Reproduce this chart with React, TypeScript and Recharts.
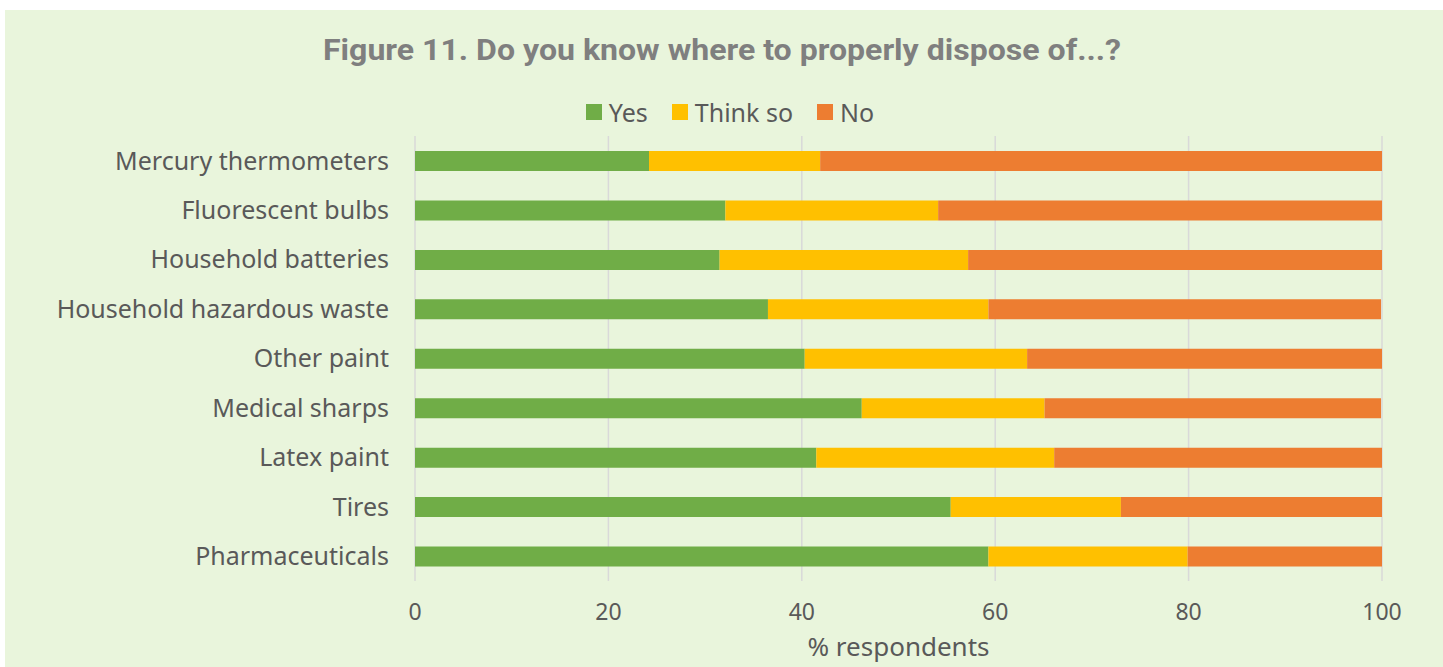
import { BarChart, Bar, XAxis, YAxis, CartesianGrid } from 'recharts';

const categories = [
  'Mercury thermometers',
  'Fluorescent bulbs',
  'Household batteries',
  'Household hazardous waste',
  'Other paint',
  'Medical sharps',
  'Latex paint',
  'Tires',
  'Pharmaceuticals',
];
const yesValues = [24.2, 32.1, 31.5, 36.5, 40.3, 46.2, 41.5, 55.4, 59.3];
const thinkSoValues = [17.7, 22.0, 25.7, 22.8, 23.0, 18.9, 24.6, 17.6, 20.6];
const noValues = [58.1, 45.9, 42.8, 40.6, 36.7, 34.8, 33.9, 27.0, 20.1];

const seriesKeys = ['yes', 'thinkSo', 'no'];
const seriesNames = ['Yes', 'Think so', 'No'];
const seriesColors = ['#70AD47', '#FFC000', '#ED7D31'];
const xTicks = [0, 20, 40, 60, 80, 100];

const data = categories.map((name, i) => ({
  name,
  yes: yesValues[i],
  thinkSo: thinkSoValues[i],
  no: noValues[i],
}));

const W = 1438;
const H = 657;
const FONT = '"Noto Sans", "Open Sans", sans-serif';
const TEXT = '#595959';

export default function App() {
  return (
    <div
      style={{
        position: 'absolute',
        left: 5,
        top: 10,
        width: W,
        height: H,
        background: '#E9F5DC',
        fontFamily: FONT,
      }}
    >
      <BarChart
        width={W}
        height={H}
        layout="vertical"
        data={data}
        margin={{ top: 126, right: 61, bottom: 0, left: 0 }}
      >
        <CartesianGrid horizontal={false} stroke="#D9D9D9" strokeWidth={1.5} />
        <XAxis
          type="number"
          domain={[0, 100]}
          ticks={xTicks}
          tickLine={false}
          axisLine={false}
          tickSize={0}
          tickMargin={23}
          height={86}
          tick={{ fill: TEXT, fontSize: 23, fontFamily: FONT }}
          label={{
            value: '% respondents',
            position: 'insideBottom',
            offset: 11,
            fill: TEXT,
            fontSize: 26,
            fontFamily: FONT,
          }}
        />
        <YAxis
          type="category"
          dataKey="name"
          width={410}
          interval={0}
          tickLine={false}
          axisLine={false}
          tickSize={0}
          tickMargin={26}
          tick={{ fill: TEXT, fontSize: 25, fontFamily: FONT }}
        />
        {seriesKeys.map((key, i) => (
          <Bar
            key={key}
            dataKey={key}
            name={seriesNames[i]}
            stackId="a"
            fill={seriesColors[i]}
            barSize={20}
            isAnimationActive={false}
          />
        ))}
      </BarChart>

      {/* title + legend drawn over the chart */}
      <svg
        width={W}
        height={130}
        style={{ position: 'absolute', left: 0, top: 0, pointerEvents: 'none' }}
      >
        <text
          x={318}
          y={50}
          textLength={798}
          lengthAdjust="spacingAndGlyphs"
          fontFamily="Roboto, sans-serif"
          fontWeight={700}
          fontSize={29}
          fill="#7F7F7F"
        >
          Figure 11. Do you know where to properly dispose of...?
        </text>
      </svg>
      <div
        style={{
          position: 'absolute',
          left: 0,
          top: 88,
          width: W,
          paddingLeft: 12,
          boxSizing: 'border-box',
          display: 'flex',
          justifyContent: 'center',
          gap: 24,
          fontSize: 25,
          lineHeight: '28px',
          color: TEXT,
        }}
      >
        {seriesNames.map((n, i) => (
          <div key={n} style={{ display: 'flex', alignItems: 'center', gap: 7 }}>
            <span style={{ width: 16, height: 16, background: seriesColors[i], display: 'inline-block' }} />
            <span>{n}</span>
          </div>
        ))}
      </div>
    </div>
  );
}
